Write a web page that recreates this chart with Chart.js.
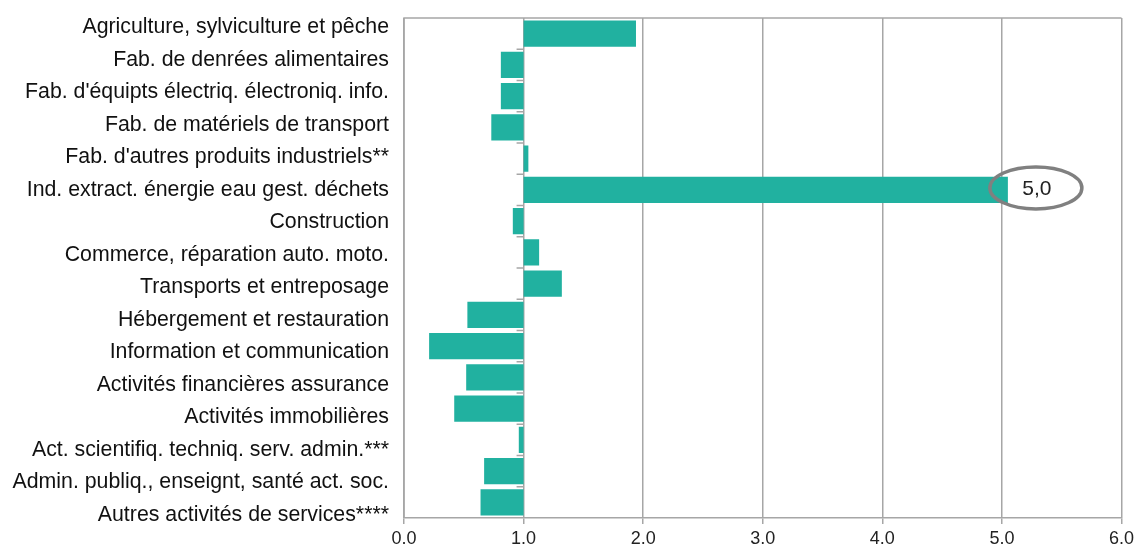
<!DOCTYPE html>
<html><head><meta charset="utf-8">
<script src="https://cdn.jsdelivr.net/npm/chart.js@4/dist/chart.umd.min.js"></script>
<style>html,body{margin:0;padding:0;background:#fff;}#wrap{width:1138px;height:547px;}</style>
</head><body><div id="wrap"><canvas id="c"></canvas></div>
<script>
const categories = [
  "Agriculture, sylviculture et pêche",
  "Fab. de denrées alimentaires",
  "Fab. d'équipts électriq. électroniq. info.",
  "Fab. de matériels de transport",
  "Fab. d'autres produits industriels**",
  "Ind. extract. énergie eau gest. déchets",
  "Construction",
  "Commerce, réparation auto. moto.",
  "Transports et entreposage",
  "Hébergement et restauration",
  "Information et communication",
  "Activités financières assurance",
  "Activités immobilières",
  "Act. scientifiq. techniq. serv. admin.***",
  "Admin. publiq., enseignt, santé act. soc.",
  "Autres activités de services****"
];
const values = [1.94, 0.81, 0.81, 0.73, 1.04, 5.05, 0.91, 1.13, 1.32, 0.53, 0.21, 0.52, 0.42, 0.96, 0.67, 0.64];
const baseValue = 1.0;
const xTicks = [0, 1, 2, 3, 4, 5, 6];
const highlightIndex = 5;
const highlightLabel = "5,0";

const gridColor = '#a6a6a6';
const FONT = '"Liberation Sans", Arial, sans-serif';
const LABEL_MIN = 0.2, LABEL_MAX = 14.62;

const decor = {
  id: 'decor',
  afterDatasetsDraw(chart) {
    const ctx = chart.ctx, a = chart.chartArea, xs = chart.scales.x, ys = chart.scales.y;
    ctx.save();
    ctx.strokeStyle = gridColor; ctx.lineWidth = 1.5;
    ctx.beginPath();
    ctx.moveTo(a.left, a.bottom); ctx.lineTo(a.left, a.top); ctx.lineTo(a.right, a.top);
    ctx.stroke();
    const xb = xs.getPixelForValue(baseValue);
    const step = (a.bottom - a.top) / categories.length;
    ctx.beginPath();
    for (let i = 1; i < categories.length; i++) {
      const y = ys.getPixelForValue(i) - step / 2;
      ctx.moveTo(xb - 7, y); ctx.lineTo(xb, y);
    }
    ctx.stroke();
    const meta = chart.getDatasetMeta(0).data[highlightIndex];
    const ex = meta.x + 28, ey = meta.y - 2;
    ctx.font = '21px ' + FONT;
    ctx.fillStyle = '#222'; ctx.textAlign = 'center'; ctx.textBaseline = 'middle';
    ctx.fillText(highlightLabel, ex + 1, ey + 1);
    ctx.strokeStyle = '#808080'; ctx.lineWidth = 3.5;
    ctx.beginPath();
    ctx.ellipse(ex, ey, 46, 21, 0, 0, Math.PI * 2);
    ctx.stroke();
    ctx.restore();
  }
};

new Chart(document.getElementById('c'), {
  type: 'bar',
  data: {
    labels: categories,
    datasets: [{
      data: values.map(v => [baseValue, v]),
      backgroundColor: '#21b1a0',
      borderWidth: 0,
      barPercentage: 0.84,
      categoryPercentage: 1.0,
      borderSkipped: false,
      yAxisID: 'y'
    }]
  },
  options: {
    indexAxis: 'y',
    responsive: true,
    maintainAspectRatio: false,
    animation: false,
    layout: { padding: { top: 18, right: 14, left: 0, bottom: 0 } },
    plugins: { legend: { display: false }, tooltip: { enabled: false } },
    scales: {
      x: {
        min: 0, max: 6,
        afterBuildTicks(s) { s.ticks = xTicks.map(v => ({ value: v })); },
        afterFit(s) { s.height = 29; },
        ticks: {
          callback: v => Number(v).toFixed(1),
          color: '#222',
          font: { family: FONT, size: 18 },
          padding: 4,
          maxRotation: 0
        },
        grid: { color: gridColor, lineWidth: 1.5, drawTicks: true, tickLength: 6, tickColor: gridColor },
        border: { color: gridColor, width: 1.5 }
      },
      y: {
        type: 'category',
        display: false,
        grid: { display: false }
      },
      yl: {
        type: 'linear',
        position: 'left',
        reverse: true,
        bounds: 'data',
        min: LABEL_MIN, max: LABEL_MAX,
        afterBuildTicks(s) {
          s.ticks = categories.map((c, i) => ({ value: i }));
          s.min = LABEL_MIN; s.max = LABEL_MAX;
        },
        afterFit(s) { s.width = 404; s.paddingTop = 0; s.paddingBottom = 0; },
        grid: { display: false, drawTicks: false },
        border: { display: false },
        ticks: {
          callback: (v, i) => categories[i],
          color: '#111',
          font: { family: FONT, size: 21.3 },
          padding: 15,
          autoSkip: false
        }
      }
    }
  },
  plugins: [decor]
});
</script>
</body></html>
